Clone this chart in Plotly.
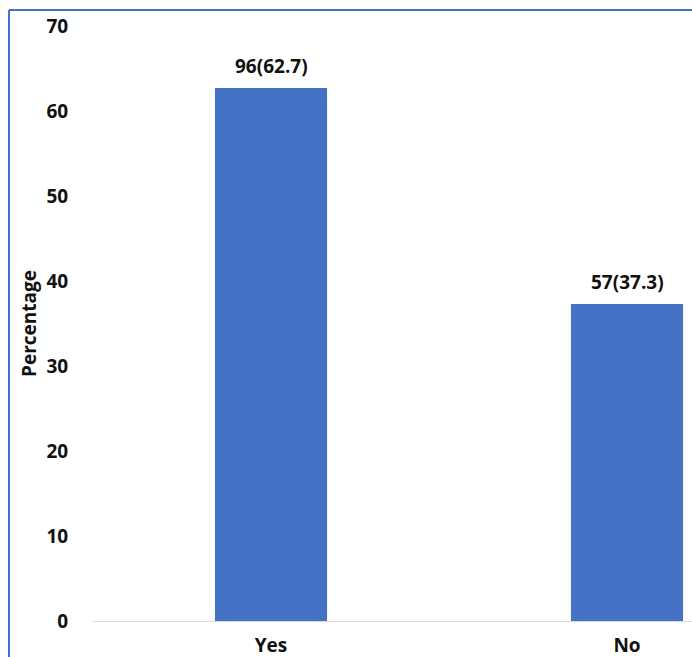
import plotly.graph_objects as go

categories = ["Yes", "No"]
counts = [96, 57]
percentages = [62.7, 37.3]
y_ticks = [0, 10, 20, 30, 40, 50, 60, 70]

BAR_COLOR = "#4472C4"
FONT = "Open Sans"

W, H = 692, 657
L, R, T, B = 93, 0, 26, 36
plot_w = W - L - R
plot_h = H - T - B

fig = go.Figure()
fig.add_trace(go.Bar(
    x=categories,
    y=percentages,
    width=0.315,
    marker=dict(color=BAR_COLOR, line=dict(width=0)),
    hoverinfo="skip",
))

# value labels above each bar: count(percent)
for cat, n, p in zip(categories, counts, percentages):
    fig.add_annotation(
        x=cat, y=p, xref="x", yref="y",
        text=f"{n}({p})", showarrow=False,
        yanchor="bottom", yshift=7,
        font=dict(family=FONT, size=19, color="#111111", weight="bold"),
    )

# frame lines on the left and top edges
def px_to_paper_x(px):
    return (px - L) / plot_w

def px_to_paper_y(py):
    return (H - B - py) / plot_h

fig.add_shape(type="line", xref="paper", yref="paper",
              x0=px_to_paper_x(9), x1=px_to_paper_x(9),
              y0=px_to_paper_y(10), y1=px_to_paper_y(H + 5),
              line=dict(color=BAR_COLOR, width=2))
fig.add_shape(type="line", xref="paper", yref="paper",
              x0=px_to_paper_x(9), x1=px_to_paper_x(W + 5),
              y0=px_to_paper_y(10), y1=px_to_paper_y(10),
              line=dict(color=BAR_COLOR, width=2))

fig.update_layout(
    width=W, height=H,
    margin=dict(l=L, r=R, t=T, b=B, autoexpand=False),
    paper_bgcolor="white", plot_bgcolor="white",
    showlegend=False,
    font=dict(family=FONT, size=19, color="#111111"),
    xaxis=dict(
        range=[-0.5, 1.1826],
        showgrid=False, zeroline=False,
        showline=True, linecolor="#d9d9d9", linewidth=1,
        ticks="outside", ticklen=7, tickcolor="rgba(0,0,0,0)",
        tickfont=dict(family=FONT, size=19, color="#111111", weight="bold"),
    ),
    yaxis=dict(
        range=[0, 70],
        tickvals=y_ticks,
        showgrid=False, zeroline=False, showline=False,
        ticks="outside", ticklen=20, tickcolor="rgba(0,0,0,0)",
        tickfont=dict(family=FONT, size=19, color="#111111", weight="bold"),
        title=dict(text="Percentage", standoff=4,
                   font=dict(family=FONT, size=19, color="#111111", weight="bold")),
    ),
)

fig.write_html("out.html")
